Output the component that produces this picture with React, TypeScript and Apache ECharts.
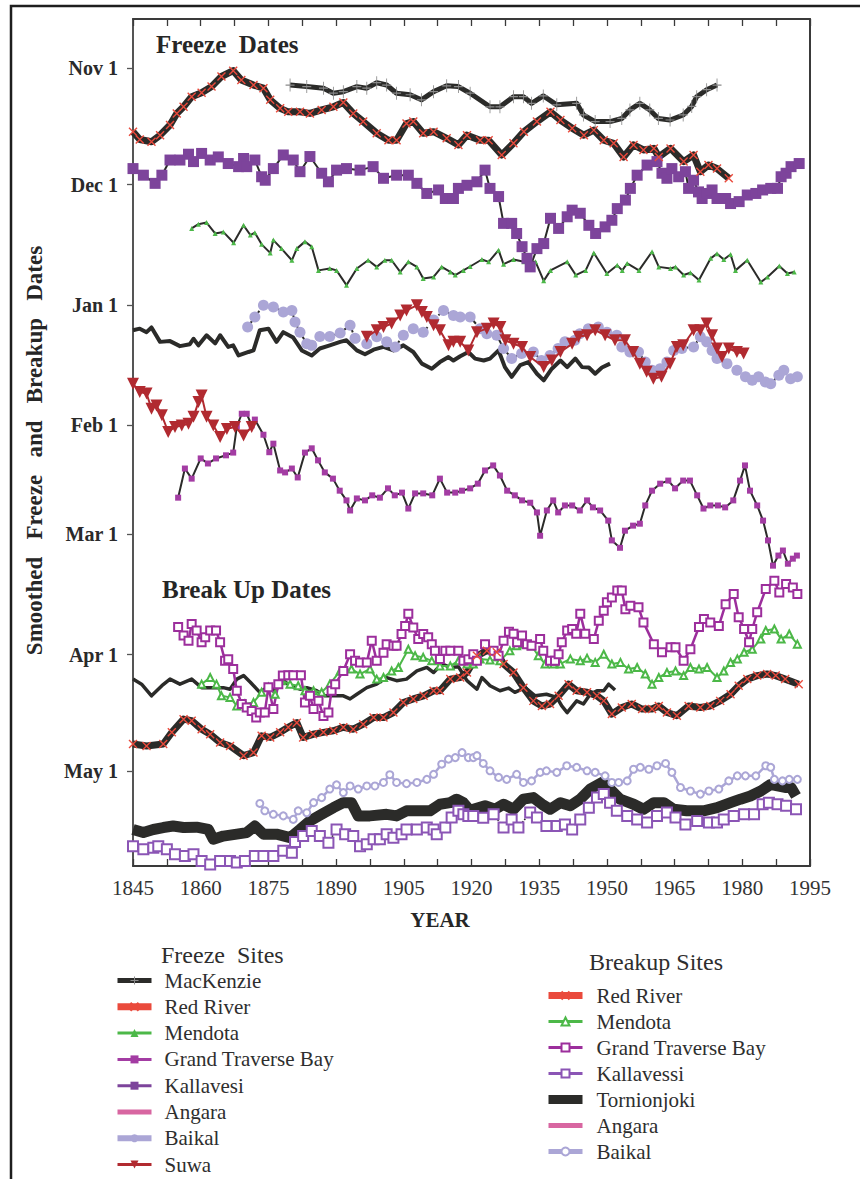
import React, { useEffect, useRef } from 'react';
import * as echarts from 'echarts';

const FONT = '"Liberation Serif", "Times New Roman", serif';
const INK = '#2b2b29';

// y values are days after Nov 1
const monthTickDays = [0, 30, 61, 92, 120, 151, 181];
const monthTickLabels = ['Nov 1', 'Dec 1', 'Jan 1', 'Feb 1', 'Mar 1', 'Apr 1', 'May 1'];
const yearMin = 1845;
const yearMax = 1995;
const yearStep = 15;

// ---------- Freeze dates ----------
const macKenzieFreeze = [[1879.8,4.4],[1883.5,4.8],[1887.2,5.2],[1889.4,6.5],[1891.6,6.1],[1894.6,4.8],[1896.8,5.2],[1899,3.8],[1901.2,4.4],[1903.4,6.5],[1906.4,6.9],[1908.9,8.2],[1911.6,6.1],[1914.5,4.6],[1917.1,4.8],[1919.7,6.5],[1924.1,10],[1926.3,10],[1929.3,7.4],[1931.5,7.4],[1933.3,9.1],[1935.9,7.2],[1938.9,9.5],[1943.3,9.1],[1944.8,12.1],[1947.4,13.8],[1950.7,13.8],[1953.3,13],[1955.1,10.8],[1957.3,9.1],[1959.5,10.8],[1961.4,13],[1964,13.4],[1966.9,12.1],[1968.8,9.9],[1969.9,7.4],[1972.1,5.6],[1974.4,4.4]];
const redRiverFreeze = [[1845,16.4],[1846.5,18.4],[1849.1,19],[1851,17.3],[1853.2,14.7],[1854.7,11.7],[1856.2,10],[1858,7.4],[1860.2,6.4],[1862.4,4.8],[1864.6,2.2],[1867.2,0.7],[1869,3.1],[1871.7,4.4],[1873.9,5.2],[1875.4,8.2],[1877.6,10.4],[1879.4,11.3],[1882,11.3],[1884.2,11.7],[1886.8,10.8],[1889.4,10],[1891.6,8.9],[1893.8,11.7],[1896,13.8],[1899,16.8],[1901.6,18.6],[1903.4,18.6],[1905.6,14.3],[1907.1,13.8],[1909.3,16.8],[1911.6,16.4],[1914.5,18.1],[1917.1,19.8],[1919,17.3],[1921.9,18.6],[1923.8,18.6],[1926.7,22.4],[1929.3,19.4],[1931.6,16.4],[1934.5,13.8],[1937.5,11.3],[1939.7,13.4],[1942.3,15.5],[1944.9,17.3],[1947.1,16],[1949.3,18.6],[1951.5,19.4],[1953.7,22.9],[1955.9,19.8],[1958.1,21.1],[1960.4,20.7],[1961.5,22.9],[1964.1,20.7],[1967,24.1],[1969.2,22.4],[1970.7,26.7],[1972.5,25],[1974.4,25.9],[1977,28.4]];
const mendotaFreeze = [[1858,41.3],[1859.5,40.2],[1861.3,39.8],[1863.2,42.6],[1865,42.2],[1867.3,45],[1869.5,40.5],[1871,43],[1872,42.4],[1873.5,45.4],[1875.4,47.6],[1876.1,44.3],[1877.9,46.5],[1880.2,49.5],[1881.3,46.5],[1883.1,44.7],[1884.6,46],[1886.1,52.1],[1888.6,51.6],[1890.1,52.1],[1892.3,55.9],[1894.6,51.6],[1897.1,49.5],[1899,51.2],[1900.8,49.5],[1902.3,49.5],[1904.2,52.5],[1906,49.9],[1907.9,51.2],[1909.3,54.2],[1911.6,53.8],[1913.4,51.2],[1915.3,52.5],[1916.4,53.3],[1918.2,52.1],[1919.7,51.1],[1922.3,49.3],[1923.8,49.9],[1926,46.9],[1927.1,50.5],[1929.3,49.3],[1931.6,49.9],[1934.2,49.9],[1936,54.8],[1937.5,52.1],[1941.2,49.9],[1943.1,53.3],[1945.3,52.1],[1947.1,47.6],[1950,52.9],[1952.3,50.8],[1953.4,52.1],[1954.5,50.3],[1957.1,52.1],[1960,47.3],[1961.5,51.2],[1964.1,51.6],[1965.2,51.2],[1967,53.3],[1968.5,52.7],[1970.4,54.6],[1973,49],[1974.4,47.8],[1975.9,49.3],[1977.4,48],[1978.5,52.1],[1981.1,49.5],[1984.1,55.1],[1985.6,53.8],[1988.2,51],[1990,52.9],[1991.5,52.5]];
const grandTraverseFreeze = [[1855,110.6],[1856.5,103.1],[1858,105.7],[1860,100.5],[1861.6,101.8],[1863.4,100.5],[1865.6,99.7],[1867.2,99],[1868,92.3],[1869.1,89],[1870.2,89],[1871.3,92],[1872,90.5],[1873.9,94.4],[1875.2,98.9],[1876.1,96.7],[1877.6,103.6],[1878.7,104.1],[1880.2,103.1],[1881.5,105.4],[1883.1,99],[1884.6,97.9],[1886,101],[1887.5,104.1],[1889.3,105.7],[1890.8,108.8],[1892.3,111.3],[1893.1,113.9],[1894.6,110.8],[1896.4,111.3],[1898,110],[1899.7,110.6],[1901.5,108.2],[1903,110],[1904.6,109.3],[1906,113.4],[1907.5,109.5],[1909.3,109.5],[1911.3,110],[1913,105.7],[1914.6,109.3],[1916.4,109.3],[1917.9,108.8],[1919.7,108.2],[1921.4,107],[1923,103.6],[1924.8,102.3],[1926.3,104.9],[1927.9,108.8],[1929.6,110],[1931.2,111.3],[1933,111.9],[1934.5,114.4],[1935.2,120.4],[1936.7,113.9],[1938.1,111.3],[1939.2,114.4],[1940.7,112.6],[1942.3,112.6],[1944,113.9],[1945.6,111.3],[1946.9,113.1],[1948.5,113.9],[1950.3,116.5],[1951.1,121.6],[1952.9,123.5],[1954,119.1],[1955.8,117.8],[1957.3,117.3],[1958.5,112.6],[1960,108.8],[1961.8,107],[1963.6,106.2],[1965.1,108.2],[1966.9,106.2],[1968.4,106.2],[1970,110],[1971.4,113.4],[1972.9,112.6],[1974.6,112.6],[1976.2,113.1],[1978,111.3],[1979.5,106.2],[1980.6,102.3],[1981.7,108.8],[1983.3,112.6],[1984.6,116.5],[1985.7,121.6],[1986.8,128.1],[1988,125.5],[1989,124.2],[1990.1,127.6],[1991.2,126.3],[1992.1,125.5]];
const kallavesiFreeze = [[1845,25.9],[1847.3,27.6],[1849.9,29.7],[1851.4,27.6],[1853.2,23.7],[1855.4,23.7],[1857.3,22.2],[1858.4,24.1],[1860.2,22],[1862.1,23.7],[1863.9,22.9],[1866.1,24.6],[1868.4,25.4],[1869.5,23.3],[1870.2,25.4],[1872,23.7],[1873.5,28],[1874.3,28.9],[1876.1,25.9],[1878.3,22.4],[1880.5,23.7],[1882,26.7],[1884.2,22.8],[1886.8,27.1],[1888.3,29.3],[1890.1,26.3],[1892.3,25.9],[1895.3,26.3],[1898.2,25.4],[1900.5,28.4],[1903.4,27.6],[1906,27.6],[1907.9,29.7],[1910.1,32.3],[1912.7,31.4],[1914.2,33.6],[1916,33.6],[1917.1,31],[1919,30.2],[1921.2,29.3],[1923,26.3],[1924.1,31],[1926,33.1],[1927.1,40],[1928.9,40],[1930,42.6],[1931.2,46],[1932.3,49],[1933,51.2],[1934.5,46.5],[1936,45.2],[1937.5,38.7],[1939.3,41.3],[1941.2,38.3],[1942.3,36.6],[1944.1,37.4],[1946,40.5],[1947.5,42.6],[1949.6,40.9],[1951.1,39.2],[1952.3,36.2],[1954.1,34],[1955.2,31],[1956.7,27.6],[1958.9,25],[1961.1,24.1],[1962.2,27.1],[1963.3,28.4],[1964.4,25.9],[1965.9,28],[1967.4,26.7],[1968.1,31],[1969.2,28.9],[1970.3,31.9],[1971.1,33.6],[1972.2,32.3],[1973.3,31.4],[1974.4,33.6],[1976.3,33.6],[1977.4,34.9],[1979.3,34.4],[1981.1,32.7],[1983,32.3],[1984.5,31.4],[1986.3,31],[1987.8,31],[1988.6,28],[1989.7,27.1],[1990.8,25.4],[1992.6,24.6]];
const angaraFreeze = [[1845,67.5],[1846.5,67.1],[1848,68],[1849.1,66.8],[1851,70.5],[1853.2,70.3],[1855.4,71.6],[1857.6,71.1],[1858.4,69.7],[1859.5,71.4],[1861.3,68.8],[1863.2,70.9],[1864.3,68.8],[1866.1,71.8],[1867.2,71.4],[1868.4,74],[1870.6,73.1],[1871.7,72.7],[1873.1,67.5],[1875,67.1],[1876.8,70.5],[1878.3,68],[1880.5,69.4],[1882.4,72.7],[1884.6,74],[1886.4,72.2],[1888.6,71.4],[1890.9,70.5],[1892.3,70.1],[1894.6,72.7],[1896.4,73.7],[1898.3,72.5],[1900.5,71.8],[1902.7,72.7],[1904.9,71.4],[1907.1,73.1],[1909,76.1],[1911.2,77.4],[1913,75.7],[1914.9,74.4],[1916,75.3],[1917.5,74.2],[1919.3,73.1],[1920.8,74.8],[1922.7,75.3],[1924.1,74.8],[1926,72.7],[1927.4,77],[1928.9,79.5],[1930.8,76.5],[1932.6,75.7],[1934.5,78.7],[1936,80.4],[1937.8,77.4],[1939.7,75.3],[1941.2,77],[1943,74.8],[1944.5,77],[1946,77.1],[1947.4,78.7],[1948.9,77.1],[1950.7,76.1]];
const baikalFreeze = [[1870.4,66.7],[1872,64.1],[1873.9,61.1],[1876.1,61.5],[1878.3,62.8],[1880.2,62.4],[1880.9,65.4],[1882,68],[1883.5,71],[1884.6,71.4],[1886.4,69.1],[1888.6,69.1],[1890.9,68.2],[1893.1,66.2],[1894.2,69.6],[1896.8,71],[1899,69.2],[1901.2,70.5],[1903.1,71.8],[1904.9,68.8],[1907.1,67.1],[1909.3,68],[1911.6,64.9],[1913.8,62.4],[1916,63.7],[1917.5,64.1],[1919.7,64.1],[1921.9,67.1],[1923.4,68.4],[1925.6,68.8],[1927.1,72.2],[1928.9,74.8],[1931.1,73.5],[1933.7,73.1],[1935.5,75.3],[1937.4,74],[1939.2,72.2],[1940.7,70.5],[1942.9,70.1],[1944,68.4],[1945.9,67.1],[1948.1,66.7],[1950,68],[1952.2,68.8],[1953.3,71.8],[1955.1,73.1],[1957,73.1],[1958.5,75.7],[1960,77.8],[1961.8,77.4],[1963.3,75.7],[1964.8,72.7],[1966.6,72.2],[1969.2,71.8],[1970.7,69.2],[1972.1,70.5],[1973.3,72.7],[1974.4,74.8],[1976.6,76.1],[1978.8,77.8],[1980.7,79.5],[1982.2,80.4],[1983.6,79.5],[1985.1,80.8],[1986.3,81.3],[1988.1,79.1],[1989.2,77.8],[1990.7,80],[1992.2,79.5]];
const suwaFreezeEarly = [[1845,81.3],[1846.5,83.4],[1848,83.8],[1849.1,87.7],[1850.2,86.9],[1851.4,89.4],[1852.8,93.7],[1854.3,92.4],[1855.8,92],[1857.3,91.6],[1858.4,89.8],[1859.5,86],[1860.2,84.3],[1861.3,89.8],[1862.8,92],[1864.3,95],[1865.8,92.9],[1867.6,92.4],[1869.5,94.6],[1871.3,92.4]];
const suwaFreezeLate = [[1896.8,69.2],[1899,67.5],[1900.5,66.7],[1902.3,65.8],[1904.2,63.7],[1905.6,62.4],[1907.9,61.1],[1909,62.8],[1910.1,64.1],[1911.6,66.2],[1913,67.5],[1914.9,71.4],[1916,70.5],[1917.5,70.5],[1919.3,72.7],[1921.2,68],[1923.4,67.1],[1924.9,65.8],[1926.4,66.7],[1927.5,70.1],[1929.3,71],[1931.2,71.8],[1933,74.4],[1936,77],[1937.8,75.3],[1939.7,73.1],[1942.3,71],[1943.7,69.2],[1945.6,68.8],[1947.4,67.5],[1949.6,68.8],[1951.8,70.1],[1954,70.1],[1955.8,73.1],[1957.3,76.1],[1958.8,78.2],[1960.3,80],[1962.1,79.5],[1964,76.1],[1965.5,71.8],[1966.9,71.4],[1969.2,67.5],[1970.7,67.5],[1972.1,65.8],[1973.3,68.8],[1974.4,72.2],[1975.5,74.4],[1977,72.2],[1978.8,73.1],[1980.3,73.5]];

// ---------- Breakup dates ----------
const redRiverBreakup = [[1845,174],[1848,174.5],[1851.7,174],[1853.6,171],[1856.2,167.6],[1858,168],[1860.2,170.2],[1862.1,171.5],[1864.3,173.6],[1866.5,174.5],[1869.5,177],[1871.7,176.2],[1873.5,171.9],[1875.4,172.3],[1877.6,171],[1879.4,169.7],[1881.3,168.5],[1882.7,172.3],[1884.9,171.5],[1887.2,171],[1889.4,170.6],[1891.6,169.7],[1893.8,170.2],[1896,168.9],[1898.3,167.2],[1900.5,167.2],[1902.7,165.9],[1904.9,163.3],[1907.1,162.4],[1909.4,161.6],[1911.6,160.3],[1913,160.3],[1915.3,157.3],[1917.5,156.9],[1919,155.6],[1921.2,151.3],[1923.4,150],[1925.6,150.4],[1927.1,153.4],[1929.3,155.6],[1931.5,159.5],[1933.7,162.9],[1935.6,164.2],[1937.4,163.7],[1939.3,161.6],[1941.5,158.6],[1943.3,160.3],[1945.6,160.7],[1947.8,161.6],[1949.3,162.9],[1951.1,166.3],[1953.3,164.6],[1955.5,163.7],[1957.8,165],[1960,165],[1961.5,164.2],[1963.3,165.9],[1965.5,166.7],[1968.1,164.2],[1970.7,164.6],[1972.9,164.2],[1975.1,162.9],[1977.4,161.2],[1979.2,159],[1981.1,157.3],[1983.3,156.4],[1985.5,156],[1987.4,156.4],[1989.5,157.3],[1992.5,158.6]];
const mendotaBreakup = [[1860.2,158.6],[1862.1,156.9],[1863.5,158.6],[1864.6,161.6],[1866.5,162],[1868,164.2],[1869.8,163.7],[1871.7,163.3],[1873.5,160.7],[1875,159.4],[1876.5,161.2],[1877.9,157.7],[1879.8,158.6],[1881.6,159],[1883.1,160.3],[1885,160.3],[1886.8,160.7],[1888.6,158.6],[1890.9,155.2],[1893.4,154.7],[1895.3,156],[1897.5,154.7],[1899,157.3],[1900.5,156.9],[1902.3,155.2],[1903.8,154.3],[1906,149.6],[1907.5,151.3],[1909.3,151.7],[1911.2,152.6],[1913,153.9],[1915.3,153.9],[1917.1,152.6],[1919,153.4],[1920.4,153.4],[1921.9,152.1],[1924.1,152.4],[1926.3,152.6],[1928.5,150],[1930,148.7],[1931.5,148.3],[1933.3,148.7],[1934.8,151.3],[1936.3,153.4],[1938.2,153.4],[1939.7,153.4],[1941.9,152.1],[1944.1,152.6],[1945.6,151.9],[1947.4,153],[1949.3,150.9],[1951.1,153.4],[1953,153],[1954.8,154.7],[1956.7,154.3],[1958.5,156],[1960,158.6],[1961.5,156.9],[1963.3,155.6],[1965.2,155.2],[1967,156.4],[1968.5,154.3],[1970.4,154.7],[1972.2,154.3],[1974.4,156.9],[1975.9,155.2],[1977.4,153],[1978.9,152.1],[1980.4,150.4],[1982.2,149.6],[1984.1,147],[1985.2,144.8],[1987.1,144.4],[1988.6,147],[1990.4,145.7],[1992.2,148.3]];
const grandTraverseBreakup = [[1855,143.9],[1856.2,146.1],[1857.3,147.4],[1858,143.1],[1859.1,144.8],[1860.2,147.8],[1861,146.5],[1862.1,144.8],[1863.4,144.8],[1864.3,147.8],[1865.4,152.6],[1866.1,152.2],[1867.2,154.7],[1868,160.3],[1869.1,163.7],[1870.2,164.6],[1871.3,165.5],[1872.3,167.2],[1873.1,165.9],[1874.2,165.9],[1875,159.4],[1876.1,165],[1877.2,158.6],[1878.2,156.4],[1879.4,156.3],[1880.5,156.3],[1882.2,156.3],[1883.1,163.3],[1884.2,161.6],[1885,165],[1886.1,162.9],[1887.2,166.8],[1888.3,165.9],[1889,160.3],[1889.8,158.6],[1891.6,155.2],[1893.1,150.9],[1894.2,152.6],[1895.3,153],[1896.8,153],[1897.9,147.4],[1899,152.6],[1900.5,150.5],[1901.2,148.3],[1902.7,148.7],[1903.4,148.7],[1904.5,145.7],[1905.3,143.6],[1906,140.5],[1907.1,144],[1908.2,147],[1909.3,145.7],[1910.4,146.5],[1911.2,148.3],[1911.9,150],[1913,152.1],[1914.2,150],[1915.3,150],[1917.1,150],[1918.2,152.6],[1919.3,152.2],[1920.4,150.9],[1921.2,152.6],[1923,148.3],[1924.9,150],[1926,151.3],[1927.1,147.4],[1928.3,145.1],[1929.3,145.6],[1930.1,147.8],[1931.2,146.1],[1932.3,148.3],[1933.3,148.7],[1935.2,147],[1935.9,150],[1937.4,152.6],[1938.5,152.6],[1939.3,150.9],[1940,147.8],[1941.2,144.8],[1942.3,144.4],[1943.2,145.6],[1944.1,140.5],[1945.2,145.6],[1947.1,147],[1948.2,142.3],[1949.3,139.7],[1950,137.5],[1951.1,136.3],[1952.3,134.5],[1953.3,134.5],[1954.1,139.3],[1955.2,138.4],[1957,138.8],[1958.1,142.7],[1960.4,148.3],[1962.2,150.4],[1964.1,149.1],[1965.2,149.1],[1967,152.6],[1968.5,149.6],[1970.4,143.9],[1971.5,141.8],[1972.9,142.7],[1974.8,143.6],[1976.3,138],[1978.1,135.4],[1979.2,141.4],[1980.4,144.4],[1981.5,147.8],[1982.2,144.4],[1983.3,140.1],[1985.2,134.1],[1987.1,132],[1988.2,135],[1989.7,132.8],[1991.2,133.7],[1992.2,135.4]];
const kallavessiBreakup = [[1845,200.3],[1847.3,201.1],[1849.5,200.7],[1850.6,200.3],[1852.5,201.1],[1854.3,202.4],[1856.5,202.8],[1858.4,202.4],[1860.2,204.1],[1862.1,205],[1864.3,204.1],[1866.5,204.1],[1868,204.5],[1869.8,204.1],[1872,202.8],[1873.9,202.8],[1876.1,202.8],[1878.3,201.5],[1880.2,202],[1880.9,199.2],[1882.7,197.7],[1884.6,196.4],[1886.4,197.7],[1888.3,199.4],[1890.1,196],[1892,197.2],[1893.8,197.7],[1895.3,200.3],[1896.8,199.8],[1898.3,198.5],[1899.7,198.5],[1901.2,197.2],[1902.7,198.1],[1904.5,197.2],[1905.6,196],[1907.9,196],[1910.1,195.5],[1911.6,196],[1912.3,197.2],[1914.2,195.5],[1915.6,192.9],[1917.1,191.2],[1918.2,192.1],[1919.3,192.5],[1920.4,192.5],[1922.6,193],[1924.9,192.1],[1927.1,195.5],[1928.9,193.4],[1930.4,195.5],[1933,191.6],[1934.5,192.9],[1936.6,195.1],[1938.9,195.1],[1940.7,194.7],[1942.3,196],[1944.1,193.4],[1946,190.4],[1947.8,187.8],[1949.3,186.9],[1950.7,189.1],[1952.2,191.2],[1954.5,192.5],[1956.7,193.4],[1958.9,194.2],[1961.1,192.5],[1963.3,191.6],[1965.2,192.9],[1967.4,194.7],[1970,193.8],[1972.6,194.2],[1974.4,194.2],[1975.9,193.4],[1978.1,192.5],[1980.4,192.1],[1982.6,192.1],[1984.5,189.5],[1985.9,189.1],[1987.8,189.5],[1989.7,189.9],[1991.9,190.8]];
const tornionjokiBreakup = [[1845,196],[1847.3,196.8],[1849.5,196],[1851.7,195.5],[1853.9,195.1],[1856.2,195.5],[1859.1,195.4],[1861.7,196],[1862.8,198.5],[1865,197.7],[1868,197.2],[1870.2,196.8],[1872,195.1],[1873.9,197.2],[1876.8,197.2],[1879.8,198.1],[1882,196],[1884.2,193.8],[1886.8,192.1],[1889.4,190.4],[1891.6,189.1],[1893.4,189.1],[1894.9,192.5],[1897.5,192.5],[1901.2,192.1],[1903.4,192.5],[1905.6,191.2],[1907.9,191.2],[1910.8,191.2],[1913,189.5],[1915.3,189.1],[1916.7,188.2],[1918.2,189.1],[1919.7,191.2],[1920.4,190.8],[1923,189.9],[1925.2,190.8],[1927.1,189.5],[1929.3,190.8],[1931.5,188.2],[1933.7,187.8],[1935.6,189.5],[1937.4,190.8],[1939.7,189.1],[1941.9,189.9],[1944.1,188.2],[1946.3,185.6],[1948.9,183.9],[1950.7,185.6],[1952.9,188.2],[1955.9,189.5],[1958.1,190.8],[1960.4,189.1],[1962.6,189.1],[1964.8,190.8],[1967.7,191.2],[1971.4,191.2],[1974.4,190.4],[1977.4,189.1],[1979.6,188.2],[1981.8,187.4],[1984.1,186.1],[1986.3,184.4],[1987.8,184.8],[1989.7,185.2],[1990.8,185.2],[1991.9,187.4]];
const angaraBreakup = [[1845,157.3],[1846.9,158.6],[1849.1,161.6],[1851.4,159],[1853.2,157.3],[1855.4,158.6],[1858,157.3],[1860.2,159.5],[1862.8,159.5],[1865,159.5],[1866.5,159.9],[1868,157.3],[1869.5,156.4],[1871,158.1],[1873.1,160.7],[1874.6,159.5],[1876.1,160.3],[1877.9,157.3],[1879.8,159],[1882,159.9],[1883.5,159.5],[1885.7,160.3],[1887.5,161.6],[1889.4,161.6],[1891.6,161.6],[1893.1,162.4],[1894.6,161.2],[1896.8,159.5],[1899,158.6],[1901.2,156.9],[1903.4,157.7],[1905.6,157.3],[1907.9,155.2],[1910.1,154.3],[1911.6,155.6],[1913.4,153.4],[1915.3,154.3],[1917.1,154.1],[1919,157.7],[1921.2,159.9],[1922.3,156.9],[1924.1,159],[1926.3,160.3],[1928.2,159.6],[1929.6,160.7],[1931.9,159.5],[1934.1,161.6],[1936.6,161.2],[1938.9,162],[1940,164.2],[1941.2,165.9],[1943.3,162.9],[1944.8,163.7],[1946.3,161.2],[1947.8,160.3],[1949.3,160.3],[1950.4,158.6],[1951.8,160.1]];
const baikalBreakup = [[1873.1,189.3],[1874.2,191.2],[1876.1,192.1],[1878.3,192.5],[1880.5,193.4],[1881.6,191.2],[1883.5,191.7],[1885,189.1],[1886.8,187.8],[1888.6,185.6],[1890.1,184.5],[1891.6,186.5],[1893.1,184.8],[1894.9,185.6],[1896.8,184.8],[1898.6,184.8],[1900.5,183.9],[1901.9,181.9],[1903.4,183.9],[1905.6,184.2],[1907.9,183.9],[1910.1,183.1],[1911.6,181.8],[1913.4,179.2],[1914.9,177.9],[1916.4,177.5],[1917.9,176.2],[1919.3,177.5],[1920.4,177.5],[1921.2,177],[1922.6,179],[1924.1,180.9],[1926,182.6],[1927.8,183.1],[1930,181.8],[1931.5,183.9],[1933.3,183.5],[1935.2,181.3],[1936.6,180.9],[1938.9,181.3],[1941.1,179.6],[1943.3,180],[1945.6,180.9],[1947.4,181.3],[1949.6,182.2],[1951.1,183.9],[1952.6,183.9],[1954.5,183.5],[1955.9,180.5],[1957.4,180],[1959.3,180.5],[1961.1,179.6],[1963,179],[1964.4,181.3],[1966.3,185.2],[1968.5,186.1],[1970.7,186.9],[1972.6,186.1],[1974.8,185.6],[1977,183.5],[1978.9,182.2],[1980.7,182.2],[1983,182.2],[1985.2,179.6],[1986.3,180],[1987.1,183.1],[1988.9,183.5],[1990.4,183.1],[1992.2,183.1]];

const PLUS = 'path://M5,0L5,10M0,5L10,5';
const CROSS = 'path://M0,0L10,10M0,10L10,0';

const freezeNames = ['MacKenzie', 'Red River', 'Mendota', 'Grand Traverse Bay', 'Kallavesi', 'Angara', 'Baikal', 'Suwa'];
const breakupNames = ['Red River', 'Mendota', 'Grand Traverse Bay', 'Kallavessi', 'Tornionjoki', 'Angara', 'Baikal'];
const BK = ' (breakup)';

function line(name: string, data: number[][], o: any) {
  return {
    type: 'line',
    name,
    data,
    xAxisIndex: 0,
    yAxisIndex: 0,
    clip: false,
    symbol: o.symbol ?? 'none',
    symbolSize: o.symbolSize ?? 6,
    symbolRotate: o.symbolRotate ?? 0,
    showSymbol: o.symbol !== undefined && o.symbol !== 'none',
    lineStyle: { color: o.lineColor, width: o.lineWidth, type: o.lineType ?? 'solid', join: 'round' },
    itemStyle: o.item ?? { color: o.lineColor },
    z: o.z ?? 2,
    emphasis: { disabled: true },
  };
}

export default function App() {
  const ref = useRef<HTMLDivElement>(null);
  useEffect(() => {
    const chart = echarts.init(ref.current!, null, { renderer: 'svg' });
    const tickLabel = (v: number) => {
      const i = monthTickDays.indexOf(Math.round(v));
      return i >= 0 ? monthTickLabels[i] : '';
    };
    const xCommon = {
      type: 'value',
      min: yearMin,
      max: yearMax,
      interval: yearStep,
      splitLine: { show: false },
      axisLine: { show: true, onZero: false, lineStyle: { color: '#3a3a3a', width: 2 } },
      axisTick: { show: true, inside: true, length: 7, lineStyle: { color: '#3a3a3a', width: 1.3 } },
      minorTick: { show: true, splitNumber: 2, length: 7, lineStyle: { color: '#3a3a3a', width: 1.3 } },
    };
    const yCommon = {
      type: 'value',
      inverse: true,
      min: -12.6,
      max: 205.4,
      splitLine: { show: false },
    };
    const series: any[] = [
      line('Angara', angaraFreeze, { lineColor: INK, lineWidth: 4 }),
      line('Mendota', mendotaFreeze, { lineColor: INK, lineWidth: 2, symbol: 'triangle', symbolSize: 5, item: { color: '#4cb848' } }),
      line('Grand Traverse Bay', grandTraverseFreeze, { lineColor: INK, lineWidth: 2, symbol: 'rect', symbolSize: 6, item: { color: '#a33ca3' } }),
      line('Kallavesi', kallavesiFreeze, { lineColor: INK, lineWidth: 2, symbol: 'rect', symbolSize: 11, item: { color: '#7d449b' } }),
      line('Baikal', baikalFreeze, { lineColor: INK, lineWidth: 2, lineType: 'dashed', symbol: 'circle', symbolSize: 11, item: { color: '#aba6d6' } }),
      line('Suwa', suwaFreezeEarly, { lineColor: '#b12a30', lineWidth: 2, symbol: 'triangle', symbolSize: 12, symbolRotate: 180, item: { color: '#b12a30' }, z: 3 }),
      line('Suwa', suwaFreezeLate, { lineColor: '#b12a30', lineWidth: 2, symbol: 'triangle', symbolSize: 12, symbolRotate: 180, item: { color: '#b12a30' }, z: 3 }),
      line('MacKenzie', macKenzieFreeze, { lineColor: INK, lineWidth: 5, symbol: PLUS, symbolSize: [9, 13], item: { color: '#8a8a8a', borderColor: '#8a8a8a', borderWidth: 1 } }),
      line('Red River', redRiverFreeze, { lineColor: INK, lineWidth: 7, symbol: CROSS, symbolSize: 8, item: { color: '#ea4a3c', borderColor: '#ea4a3c', borderWidth: 1.4 } }),

      line('Angara' + BK, angaraBreakup, { lineColor: INK, lineWidth: 3.5 }),
      line('Mendota' + BK, mendotaBreakup, { lineColor: '#4cb848', lineWidth: 2, symbol: 'emptyTriangle', symbolSize: 7, item: { color: '#4cb848' } }),
      line('Grand Traverse Bay' + BK, grandTraverseBreakup, { lineColor: '#9c2e9c', lineWidth: 2.5, symbol: 'emptyRect', symbolSize: 8, item: { color: '#9c2e9c' } }),
      line('Baikal' + BK, baikalBreakup, { lineColor: '#aba6d6', lineWidth: 2.5, symbol: 'emptyCircle', symbolSize: 7, item: { color: '#aba6d6' } }),
      line('Tornionjoki' + BK, tornionjokiBreakup, { lineColor: INK, lineWidth: 11 }),
      line('Kallavessi' + BK, kallavessiBreakup, { lineColor: INK, lineWidth: 1.6, lineType: 'dotted', symbol: 'emptyRect', symbolSize: 10, item: { color: '#8b55b5' } }),
      line('Red River' + BK, redRiverBreakup, { lineColor: INK, lineWidth: 7, symbol: CROSS, symbolSize: 8, item: { color: '#ea4a3c', borderColor: '#ea4a3c', borderWidth: 1.4 } }),
    ];

    const hidden = { opacity: 0 };
    const freezeLegendStyle: Record<string, any> = {
      'MacKenzie': { lineStyle: { color: INK, width: 5, type: 'solid' }, itemStyle: { color: '#8a8a8a', borderColor: '#8a8a8a', borderWidth: 1 } },
      'Red River': { lineStyle: { color: '#ea4a3c', width: 7, type: 'solid' }, itemStyle: { color: '#ea4a3c', borderColor: '#ea4a3c' } },
      'Mendota': { lineStyle: { color: '#4cb848', width: 3, type: 'solid' }, itemStyle: { color: '#4cb848' } },
      'Grand Traverse Bay': { lineStyle: { color: '#a33ca3', width: 3, type: 'solid' }, itemStyle: { color: '#a33ca3' } },
      'Kallavesi': { lineStyle: { color: '#7d449b', width: 3, type: 'solid' }, itemStyle: { color: '#7d449b' } },
      'Angara': { lineStyle: { color: '#d866a1', width: 5, type: 'solid' }, itemStyle: hidden },
      'Baikal': { lineStyle: { color: '#aba6d6', width: 6, type: 'solid' }, itemStyle: { color: '#aba6d6' } },
      'Suwa': { lineStyle: { color: '#b12a30', width: 3, type: 'solid' }, itemStyle: { color: '#b12a30' } },
    };
    const breakupLegendStyle: Record<string, any> = {
      'Red River': { lineStyle: { color: '#ea4a3c', width: 7, type: 'solid' }, itemStyle: { color: '#ea4a3c', borderColor: '#ea4a3c' } },
      'Mendota': { lineStyle: { color: '#4cb848', width: 3, type: 'solid' }, itemStyle: { color: '#4cb848' } },
      'Grand Traverse Bay': { lineStyle: { color: '#9c2e9c', width: 3, type: 'solid' }, itemStyle: { color: '#9c2e9c' } },
      'Kallavessi': { lineStyle: { color: '#8b55b5', width: 3, type: 'solid' }, itemStyle: { color: '#8b55b5' } },
      'Tornionjoki': { lineStyle: { color: INK, width: 9, type: 'solid' }, itemStyle: hidden },
      'Angara': { lineStyle: { color: '#d866a1', width: 5, type: 'solid' }, itemStyle: hidden },
      'Baikal': { lineStyle: { color: '#aba6d6', width: 5, type: 'solid' }, itemStyle: { color: '#aba6d6' } },
    };
    const legendText = { fontFamily: FONT, fontSize: 21, color: '#2e2e2e', padding: [0, 0, 0, 8] };

    const option: any = {
      animation: false,
      backgroundColor: '#ffffff',
      grid: { left: 133, top: 19, width: 677, height: 847, containLabel: false },
      xAxis: [
        {
          ...xCommon,
          position: 'bottom',
          axisLabel: { show: true, margin: 11, fontFamily: FONT, fontSize: 21, color: '#333', showMinLabel: true, showMaxLabel: true, formatter: (v: number) => String(v) },
        },
        { ...xCommon, position: 'top', axisLabel: { show: false } },
      ],
      yAxis: [
        {
          ...yCommon,
          position: 'left',
          name: 'Smoothed   Freeze   and   Breakup   Dates',
          nameLocation: 'middle',
          nameGap: 87,
          nameTextStyle: { fontFamily: FONT, fontSize: 23, fontWeight: 'bold', color: '#262626', padding: [0, 16, 0, 0] },
          axisLine: { show: true, onZero: false, lineStyle: { color: '#555', width: 2 } },
          axisTick: { show: true, inside: false, length: 6, customValues: monthTickDays, lineStyle: { color: '#555', width: 1.3 } },
          axisLabel: { show: true, customValues: monthTickDays, formatter: tickLabel, margin: 15, fontFamily: FONT, fontSize: 20, fontWeight: 'bold', color: '#2a2a2a' },
        },
        {
          ...yCommon,
          position: 'right',
          axisLine: { show: true, onZero: false, lineStyle: { color: '#3a3a3a', width: 2 } },
          axisTick: { show: false },
          axisLabel: { show: false },
        },
      ],
      legend: [
        {
          orient: 'vertical', left: 114, top: 970, height: 260, padding: 0, itemGap: 5.3, itemWidth: 34, itemHeight: 10,
          selectedMode: false, textStyle: legendText,
          data: freezeNames.map((n) => ({ name: n, ...freezeLegendStyle[n] })),
        },
        {
          orient: 'vertical', left: 544, top: 985, height: 240, padding: 0, itemGap: 5, itemWidth: 34, itemHeight: 10,
          selectedMode: false, textStyle: { ...legendText, padding: [0, 0, 0, 9] },
          formatter: (n: string) => n.replace(BK, ''),
          data: breakupNames.map((n) => ({ name: n + BK, ...breakupLegendStyle[n] })),
        },
      ],
      graphic: [
        { type: 'polyline', silent: true, shape: { points: [[11, 1179], [11, 6], [860, 6]] }, style: { stroke: '#1e1e1e', lineWidth: 2.5, fill: null } },
        { type: 'text', x: 156, y: 44, style: { text: 'Freeze  Dates', fontFamily: FONT, fontSize: 25, fontWeight: 'bold', fill: '#262626', textVerticalAlign: 'middle' } },
        { type: 'text', x: 162, y: 589, style: { text: 'Break Up Dates', fontFamily: FONT, fontSize: 25, fontWeight: 'bold', fill: '#262626', textVerticalAlign: 'middle' } },
        { type: 'text', x: 440, y: 920, style: { text: 'YEAR', fontFamily: FONT, fontSize: 21, fontWeight: 'bold', fill: '#262626', textAlign: 'center', textVerticalAlign: 'middle' } },
        { type: 'text', x: 161, y: 955, style: { text: 'Freeze  Sites', fontFamily: FONT, fontSize: 24, fill: '#2e2e2e', textVerticalAlign: 'middle' } },
        { type: 'text', x: 589, y: 962, style: { text: 'Breakup Sites', fontFamily: FONT, fontSize: 24, fill: '#2e2e2e', textVerticalAlign: 'middle' } },
      ],
      series,
    };
    chart.setOption(option);
    return () => chart.dispose();
  }, []);
  return <div ref={ref} style={{ position: 'absolute', left: 0, top: 0, width: 860, height: 1179 }} />;
}
